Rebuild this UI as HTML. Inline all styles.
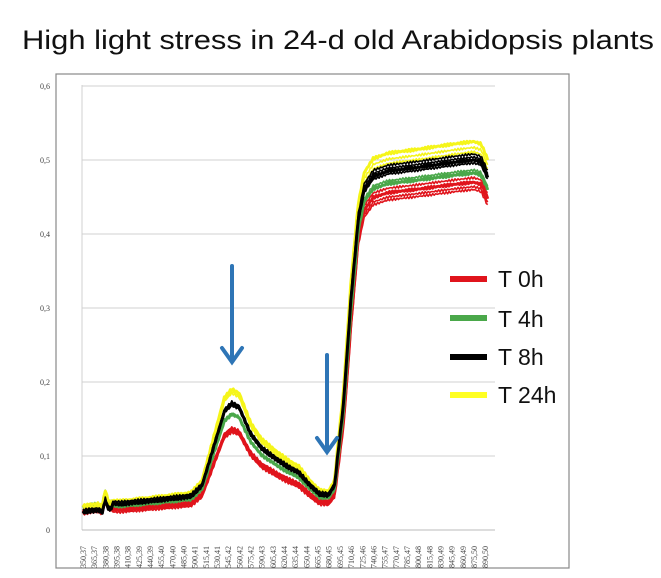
<!DOCTYPE html>
<html><head><meta charset="utf-8"><style>
body{margin:0;background:#fff;width:661px;height:573px;overflow:hidden;font-family:"Liberation Sans",sans-serif}
</style></head><body>
<svg id="s" width="661" height="573" xmlns="http://www.w3.org/2000/svg">
<text x="22" y="49" textLength="632" lengthAdjust="spacingAndGlyphs" font-size="27" font-family="Liberation Sans, sans-serif" fill="#111">High light stress in 24-d old Arabidopsis plants</text>
<rect x="56" y="74" width="513" height="494" fill="none" stroke="#888" stroke-width="1.2"/>
<g id="grid" stroke="#d0d0d0" stroke-width="1"></g>
<g id="lab" font-family="Liberation Serif, serif" font-size="8" fill="#444"></g>
<g id="curves" fill="none" stroke-linejoin="round"></g>
<g stroke="#2e75b6" stroke-width="4" fill="none" stroke-linecap="round">
<line x1="232" y1="266" x2="232" y2="360"/><polyline points="222,348 232,362 242,348"/>
<line x1="327" y1="355" x2="327" y2="450"/><polyline points="317,438 327,452 337,438"/>
</g>
<g font-size="23" font-family="Liberation Sans, sans-serif" fill="#111">
<rect x="450" y="276" width="37" height="6" fill="#e0141c"/><text x="498" y="287">T 0h</text>
<rect x="450" y="315" width="37" height="6" fill="#4aa84a"/><text x="498" y="327">T 4h</text>
<rect x="450" y="354" width="37" height="6" fill="#000"/><text x="498" y="365">T 8h</text>
<rect x="450" y="392" width="37" height="6" fill="#ffff22"/><text x="498" y="403">T 24h</text>
</g>
</svg>
<script>
var NS="http://www.w3.org/2000/svg";
function el(t,a,p){var e=document.createElementNS(NS,t);for(var k in a)e.setAttribute(k,a[k]);document.getElementById(p).appendChild(e);return e;}
for(var i=0;i<=6;i++){var y=530-i*74;
 if(i>0)el("line",{x1:82,y1:y,x2:495,y2:y},"grid");
 var t=el("text",{x:50,y:y+3,"text-anchor":"end"},"lab");t.textContent="0,"+i;if(i==0)t.textContent="0";}
el("line",{x1:82,y1:85,x2:82,y2:530},"grid");
el("line",{x1:82,y1:530,x2:495,y2:530,stroke:"#bbb"},"grid");
var labs=[];for(var i=0;i<=36;i++){var wl=350+15*i;var d=37+Math.round(i*13/36);labs.push(wl+","+(d<10?"0"+d:d));}
labs.forEach(function(s,i){var x=83+i*11.17+3;var t=el("text",{x:x,y:568,transform:"rotate(-90 "+x+" 568)"},"lab");t.textContent=s;});
function X(w){return 83+(w-350)*0.744}
function Y(v){return 530-v*740}
var pts=[[350,0.03],[360,0.032],[370,0.033],[376,0.03],[380,0.05],[384,0.036],[400,0.035],[450,0.04],[495,0.045],[510,0.06],[525,0.11],[540,0.16],[550,0.17],[560,0.165],[575,0.13],[590,0.11],[610,0.095],[625,0.085],[640,0.077],[655,0.06],[668,0.048],[680,0.047],[688,0.06],[700,0.17],[710,0.31],[720,0.42],[728,0.46],[740,0.478],[760,0.485],[800,0.49],[850,0.497],[875,0.5],[885,0.497],[895,0.475]];
function base(w){for(var i=1;i<pts.length;i++){if(w<=pts[i][0]){var a=pts[i-1],b=pts[i],t=(w-a[0])/(b[0]-a[0]);return a[1]+t*(b[1]-a[1]);}}return pts[pts.length-1][1];}
var series=[
 {c:"#e0141c",a:0.8,b:0.94,n:[0,-0.006,0.006,-0.01],lo:0.85},
 {c:"#4aa84a",a:0.92,b:0.965,n:[0,0.004],lo:1.05},
 {c:"#f5f51a",a:1.12,b:1.05,n:[0,-0.008,-0.014],lo:1.08},
 {c:"#000",a:1.0,b:1.0,n:[0,0.004,-0.004,0.008],lo:0.8}
];
series.forEach(function(s){s.n.forEach(function(off,k){var d="";for(var w=350;w<=895;w+=2){var v=base(w);var f=w<690?s.a:(w>720?s.b:s.a+(s.b-s.a)*(w-690)/30);
 var vv=v*f;if(w<390)vv=v*s.lo;vv+=off*(w>700?1:0.4)+(Math.sin(w*1.7+k)*0.0015);
 d+=(d?"L":"M")+X(w).toFixed(1)+","+Y(vv).toFixed(1);}
 el("path",{d:d,stroke:s.c,"stroke-width":k==0?3:1.6},"curves");});});
</script>
</body></html>
